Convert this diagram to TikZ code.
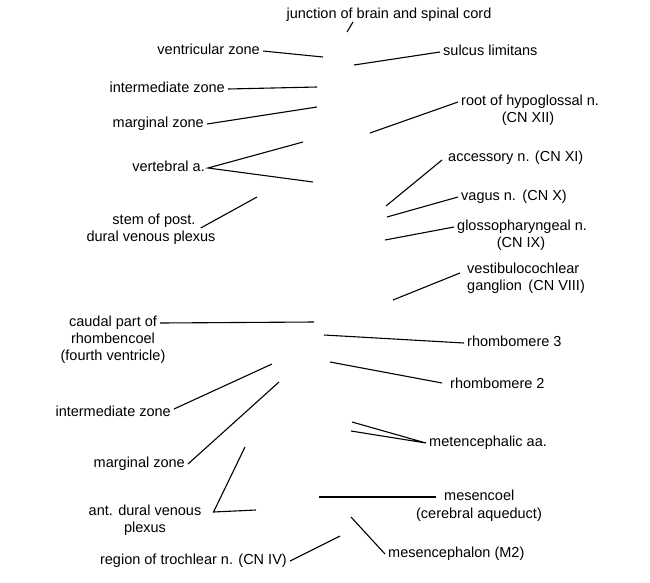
\documentclass[tikz,border=0pt]{standalone}
\usepackage{fontspec}
\setmainfont{Liberation Sans}
\begin{document}
\begin{tikzpicture}[x=1pt,y=-1pt,
  lab/.style={font=\fontsize{14.5}{17}\selectfont, inner xsep=3pt, inner ysep=0pt, text height=10.5pt, text depth=3pt},
  lead/.style={line width=1.1pt, black}]
\useasboundingbox[fill=white] (0,0) rectangle (650,582);

% ---- labels ----
\node[lab] (jn) at (389,15) {junction of brain and spinal cord};
\node[lab, anchor=east] (vz) at (263,51) {ventricular zone};
\node[lab, anchor=west] (sl) at (440,52) {sulcus limitans};
\node[lab, anchor=east] (iz) at (228,89) {intermediate zone};
\node[lab, anchor=east] (mz) at (207,124) {marginal zone};
\node[lab, anchor=west] (hy) at (458,102) {root of hypoglossal n.};
\node[lab] (hyb) at (528,119) {(CN XII)};
\node[lab, anchor=east] (va) at (208,168) {vertebral a.};
\node[lab] (sp) at (154,221) {stem of post.};
\node[lab] (spb) at (151,238) {dural venous plexus};
\node[lab, anchor=west] (ac) at (445,158) {accessory n. (CN XI)};
\node[lab, anchor=west] (vg) at (458,197) {vagus n.\ \,(CN X)};
\node[lab, anchor=west] (gl) at (454,227) {glossopharyngeal n.};
\node[lab] (glb) at (521,244) {(CN IX)};
\node[lab, anchor=west] (vc) at (464,270) {vestibulocochlear};
\node[lab, anchor=west] (vcb) at (464,287) {ganglion\ \,(CN VIII)};
\node[lab] (cp) at (113,323) {caudal part of};
\node[lab] (cpb) at (113,340) {rhombencoel};
\node[lab] (cpc) at (113,357) {(fourth ventricle)};
\node[lab, anchor=west] (r3) at (464,343) {rhombomere 3};
\node[lab, anchor=west] (r2) at (447,385) {rhombomere 2};
\node[lab, anchor=east] (iz2) at (174,413) {intermediate zone};
\node[lab, anchor=east] (mz2) at (188,464) {marginal zone};
\node[lab, anchor=west] (ma) at (426,443) {metencephalic aa.};
\node[lab] (ad) at (145,512) {ant. dural venous};
\node[lab] (adb) at (145,529) {plexus};
\node[lab, anchor=east] (tr) at (290,561) {region of trochlear n. (CN IV)};
\node[lab, anchor=west] (me) at (441,497) {mesencoel};
\node[lab] (meb) at (479,515) {(cerebral aqueduct)};
\node[lab, anchor=west] (mp) at (385,554) {mesencephalon (M2)};

% ---- free ends ----
\coordinate (jn0) at (347,32);
\coordinate (vz0) at (323,57);
\coordinate (sl0) at (354,65);
\coordinate (iz0) at (317,87);
\coordinate (mz0) at (317,107);
\coordinate (hy0) at (370,133);
\coordinate (va1) at (303,142);
\coordinate (va2) at (313,182);
\coordinate (sp0) at (257,197);
\coordinate (ac0) at (386,206);
\coordinate (vg0) at (387,217);
\coordinate (gl0) at (385,240);
\coordinate (vc0) at (393,300);
\coordinate (cp0) at (314,322);
\coordinate (r30) at (324,335);
\coordinate (r20) at (330,362);
\coordinate (iz20) at (272,364);
\coordinate (mz20) at (279,382);
\coordinate (ma1) at (352,422);
\coordinate (ma2) at (351,431);
\coordinate (ad1) at (245,447);
\coordinate (ad2) at (256,510);
\coordinate (ad0) at ([xshift=9pt]ad.east);
\coordinate (tr0) at (340,536);
\coordinate (me0) at (319,497);
\coordinate (mp0) at (351,517);

% ---- leaders ----
\draw[lead] (jn0) -- ([xshift=-36pt]jn.south);
\draw[lead] (vz.east) -- (vz0);
\draw[lead] (sl0) -- (sl.west);
\draw[lead] (iz.east) -- (iz0);
\draw[lead] (mz.east) -- (mz0);
\draw[lead] (hy0) -- (hy.west);
\draw[lead] (va1) -- (va.east) -- (va2);
\draw[lead] ([xshift=2pt,yshift=-7pt]sp.east) -- (sp0);
\draw[lead] (ac0) -- ([xshift=-3pt,yshift=-2pt]ac.west);
\draw[lead] (vg0) -- (vg.west);
\draw[lead] (gl0) -- (gl.west);
\draw[lead] (vc0) -- ([xshift=-4pt,yshift=-3pt]vc.west);
\draw[lead] (cp.east) -- (cp0);
\draw[lead] (r30) -- (r3.west);
\draw[lead] (r20) -- ([xshift=-5pt,yshift=2pt]r2.west);
\draw[lead] ([yshift=4pt]iz2.east) -- (iz20);
\draw[lead] (mz2.east) -- (mz20);
\draw[lead] (ma1) -- (ma.west) -- (ma2);
\draw[lead] (ad1) -- (ad0) -- (ad2);
\draw[lead] (tr.east) -- (tr0);
\draw[lead] (me0) -- ([xshift=-5pt]me.west);
\draw[lead] (mp0) -- (mp.west);
\end{tikzpicture}
\end{document}
